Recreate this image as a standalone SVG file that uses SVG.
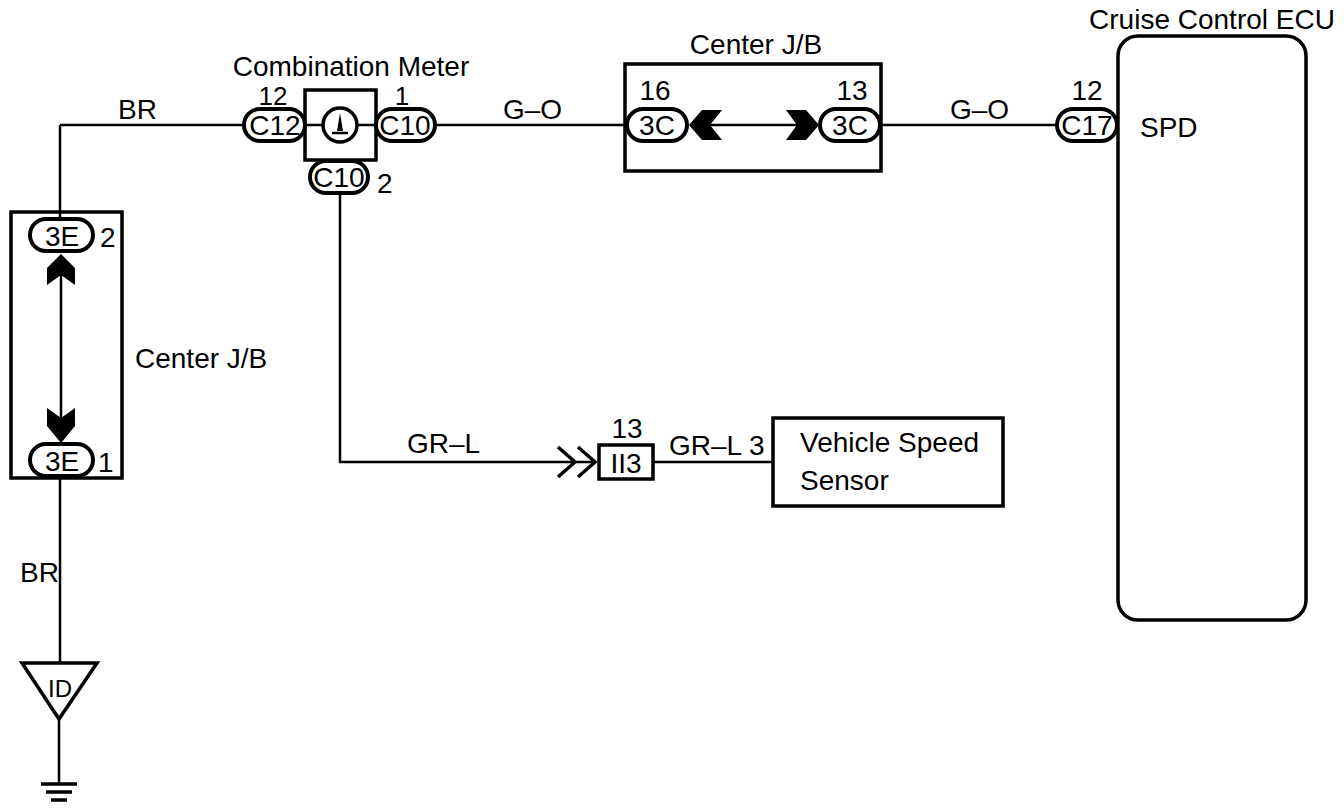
<svg xmlns="http://www.w3.org/2000/svg" width="1344" height="808" viewBox="0 0 1344 808">
<style>
.t{font-family:"Liberation Sans",Arial,sans-serif;font-size:28px;fill:#000}
.s{font-size:26px}
.m{text-anchor:middle}
.box{fill:none;stroke:#000;stroke-width:3.5}
.pill{fill:#fff;stroke:#000;stroke-width:4}
.wire{fill:none;stroke:#000;stroke-width:2.5}
.solid{fill:#000;stroke:none}
.chev{fill:none;stroke:#000;stroke-width:3.5}
</style>
<rect width="1344" height="808" fill="#fff"/>
<g id="connectors">
<path class="wire" d="M60,125 H245"/>
<path class="wire" d="M60,125 V218"/>
<path class="wire" d="M433,125 H627"/>
<path class="wire" d="M710,125 H797"/>
<path class="wire" d="M880,125 H1057"/>
<path class="wire" d="M340,193 V462 H595"/>
<path class="wire" d="M653,462 H773"/>
<path class="wire" d="M61,256 V440"/>
<path class="wire" d="M60,477 V663"/>
<path class="wire" d="M59,718 V784"/>
<path class="chev" d="M558,447 L575,462 L558,477 M578,447 L595,462 L578,477"/>
<text class="t" x="118" y="119">BR</text>
<text class="t" x="503" y="119">G–O</text>
<text class="t" x="950" y="119">G–O</text>
<text class="t" x="20" y="582">BR</text>
<text class="t" x="407" y="453">GR–L</text>
<text class="t" x="669" y="455">GR–L 3</text>
</g>
<g id="combination-meter">
<text class="t m" x="351" y="76">Combination Meter</text>
<rect class="box" x="305" y="90" width="71" height="70"/>
<path class="wire" d="M305,125 H323 M357,125 H376"/>
<circle cx="340" cy="125" r="17" fill="#fff" stroke="#000" stroke-width="3.5"/>
<polygon class="solid" points="340,113 337,131 343,131"/>
<path d="M332,133 H348" stroke="#000" stroke-width="2.5"/>
<rect class="pill" x="244" y="109" width="61" height="32" rx="16"/>
<text class="t m" x="275" y="135">C12</text>
<text class="t s m" x="273" y="105">12</text>
<rect class="pill" x="376" y="109" width="59" height="32" rx="16"/>
<text class="t m" x="405" y="135">C10</text>
<text class="t s m" x="402" y="105">1</text>
<rect class="pill" x="310" y="161" width="58" height="32" rx="16"/>
<text class="t m" x="339" y="187">C10</text>
<text class="t" x="377" y="193">2</text>
</g>
<g id="center-jb-top">
<text class="t m" x="756" y="54">Center J/B</text>
<rect class="box" x="625" y="64" width="256" height="107"/>
<rect class="pill" x="627" y="109" width="60" height="32" rx="16"/>
<text class="t m" x="657" y="135">3C</text>
<text class="t m" x="655" y="100">16</text>
<rect class="pill" x="820" y="109" width="60" height="32" rx="16"/>
<text class="t m" x="850" y="135">3C</text>
<text class="t m" x="852" y="100">13</text>
<polygon class="solid" points="689,125 702,110 722,110 710,125 722,140 702,140"/>
<polygon class="solid" points="819,125 806,110 786,110 797,125 786,140 806,140"/>
</g>
<g id="cruise-control-ecu">
<text class="t m" x="1212" y="29">Cruise Control ECU</text>
<rect class="box" x="1118" y="36" width="188" height="584" rx="20"/>
<rect class="pill" x="1057" y="109" width="60" height="32" rx="16"/>
<text class="t m" x="1087" y="135">C17</text>
<text class="t m" x="1087" y="100">12</text>
<text class="t" x="1140" y="137">SPD</text>
</g>
<g id="center-jb-left">
<rect class="box" x="11" y="212" width="111" height="266"/>
<rect class="pill" x="30" y="219" width="63" height="32" rx="16"/>
<text class="t m" x="62" y="246">3E</text>
<text class="t" x="100" y="247">2</text>
<rect class="pill" x="30" y="444" width="63" height="32" rx="16"/>
<text class="t m" x="62" y="471">3E</text>
<text class="t" x="98" y="472">1</text>
<polygon class="solid" points="61,254 75,268 75,285 61,275 47,285 47,268"/>
<polygon class="solid" points="47,408 61,418 75,408 75,426 61,443 47,426"/>
<text class="t" x="135" y="368">Center J/B</text>
</g>
<g id="connector-ii3">
<rect class="box" x="599" y="445" width="54" height="34"/>
<text class="t m" x="626" y="473">II3</text>
<text class="t m" x="627" y="438">13</text>
</g>
<g id="vehicle-speed-sensor">
<rect class="box" x="773" y="418" width="230" height="88"/>
<text class="t" x="800" y="452">Vehicle Speed</text>
<text class="t" x="800" y="490">Sensor</text>
</g>
<g id="ground-id">
<polygon points="22,663 97,663 59,719" fill="#fff" stroke="#000" stroke-width="3.5" stroke-linejoin="miter"/>
<text class="t m" x="60" y="697" style="font-size:24px">ID</text>
<path d="M41,784 H77 M46,792 H72 M51,800 H67" stroke="#000" stroke-width="3.5"/>
</g>
</svg>
